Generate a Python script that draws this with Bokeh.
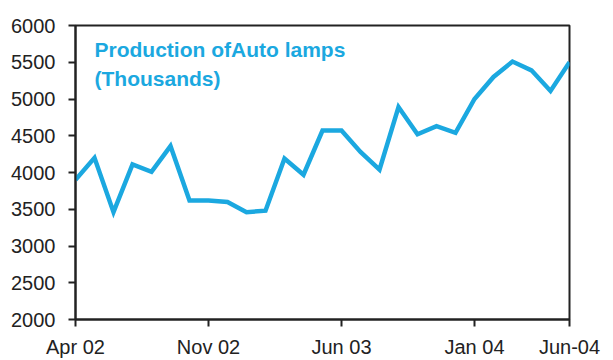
from bokeh.plotting import figure
from bokeh.models import FixedTicker, Range1d, Label
from bokeh.embed import file_html
from bokeh.resources import INLINE

months = ["Apr 02", "May 02", "Jun 02", "Jul 02", "Aug 02", "Sep 02", "Oct 02", "Nov 02", "Dec 02",
          "Jan 03", "Feb 03", "Mar 03", "Apr 03", "May 03", "Jun 03", "Jul 03", "Aug 03", "Sep 03",
          "Oct 03", "Nov 03", "Dec 03", "Jan 04", "Feb 04", "Mar 04", "Apr 04", "May 04", "Jun-04"]
production = [3900, 4200, 3460, 4110, 4010, 4360, 3620, 3620, 3600, 3460, 3480, 4190, 3970, 4570,
              4570, 4280, 4040, 4890, 4520, 4630, 4540, 5000, 5300, 5510, 5390, 5110, 5500]
x_tick_labels = ["Apr 02", "Nov 02", "Jun 03", "Jan 04", "Jun-04"]
y_ticks = [2000, 2500, 3000, 3500, 4000, 4500, 5000, 5500, 6000]

idx = list(range(len(months)))
tick_pos = [months.index(m) for m in x_tick_labels]

BLUE = "#1BA8E0"
FONT = "Liberation Sans"

p = figure(width=613, height=360, output_backend="svg", toolbar_location=None,
           x_range=Range1d(0, len(months) - 1), y_range=Range1d(2000, 6000),
           min_border_left=75, min_border_right=44, min_border_top=25, min_border_bottom=39)
p.outline_line_color = "#222222"
p.outline_line_width = 2
p.grid.visible = False
p.background_fill_color = "white"
p.border_fill_color = "white"

p.line(idx, production, line_color=BLUE, line_width=4.5, line_join="miter")

p.xaxis.ticker = FixedTicker(ticks=tick_pos)
p.xaxis.major_label_overrides = {i: m for i, m in zip(tick_pos, x_tick_labels)}
p.yaxis.ticker = FixedTicker(ticks=y_ticks)

for ax in (p.xaxis, p.yaxis):
    ax.axis_line_color = "#222222"
    ax.axis_line_width = 2
    ax.major_tick_line_color = "#222222"
    ax.major_tick_line_width = 2
    ax.major_tick_out = 7
    ax.major_tick_in = 0
    ax.minor_tick_line_color = None
    ax.major_label_text_font = FONT
    ax.major_label_text_font_size = "20px"
    ax.major_label_text_color = "#222222"
p.xaxis.major_label_standoff = 9
p.yaxis.major_label_standoff = 13

p.add_layout(Label(x=1, y=5680, text="Production ofAuto lamps", text_color=BLUE,
                   text_font=FONT, text_font_size="21px", text_font_style="bold",
                   text_baseline="middle"))
p.add_layout(Label(x=1, y=5280, text="(Thousands)", text_color=BLUE,
                   text_font=FONT, text_font_size="21px", text_font_style="bold",
                   text_baseline="middle"))

open("out.html", "w").write(file_html(p, INLINE))
